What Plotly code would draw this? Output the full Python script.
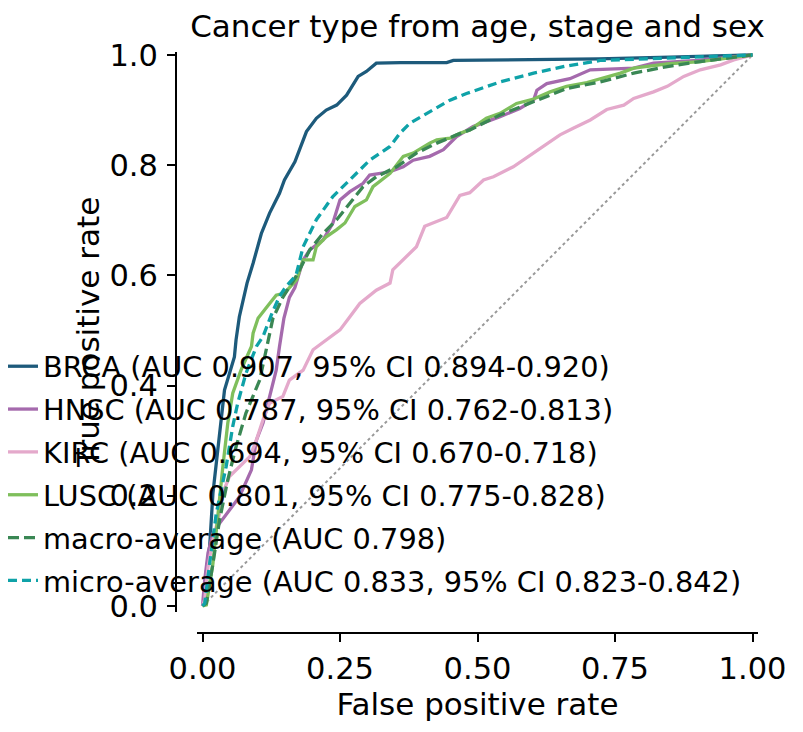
import plotly.graph_objects as go

# ROC points
brca_fpr = [0, 0.002, 0.005, 0.013, 0.019, 0.030, 0.040, 0.058, 0.061, 0.067, 0.081, 0.092,
            0.107, 0.122, 0.140, 0.149, 0.168, 0.189, 0.207, 0.225, 0.244, 0.262, 0.283,
            0.298, 0.316, 0.36, 0.444, 0.456, 0.60, 0.72, 0.85, 1.0]
brca_tpr = [0, 0.005, 0.047, 0.108, 0.205, 0.301, 0.392, 0.452, 0.483, 0.525, 0.586, 0.622,
            0.676, 0.713, 0.749, 0.773, 0.806, 0.861, 0.885, 0.900, 0.909, 0.927, 0.961,
            0.970, 0.985, 0.986, 0.986, 0.990, 0.991, 0.993, 0.996, 1.0]

hnsc_fpr = [0, 0.004, 0.010, 0.019, 0.031, 0.049, 0.067, 0.089, 0.098, 0.110, 0.134, 0.140,
            0.148, 0.158, 0.168, 0.183, 0.195, 0.219, 0.237, 0.250, 0.268, 0.292, 0.304,
            0.341, 0.365, 0.383, 0.413, 0.438, 0.456, 0.462, 0.492, 0.541, 0.577, 0.602,
            0.608, 0.626, 0.668, 0.705, 0.784, 0.820, 0.900, 1.0]
hnsc_tpr = [0, 0.047, 0.096, 0.132, 0.150, 0.174, 0.198, 0.247, 0.301, 0.332, 0.428, 0.471,
            0.522, 0.560, 0.578, 0.628, 0.646, 0.664, 0.695, 0.737, 0.752, 0.767, 0.782,
            0.788, 0.797, 0.809, 0.816, 0.828, 0.846, 0.852, 0.870, 0.888, 0.903, 0.918,
            0.936, 0.948, 0.957, 0.973, 0.976, 0.985, 0.990, 1.0]

kirc_fpr = [0, 0.004, 0.010, 0.019, 0.031, 0.037, 0.049, 0.067, 0.086, 0.098, 0.110, 0.122,
            0.146, 0.158, 0.183, 0.201, 0.225, 0.250, 0.268, 0.286, 0.316, 0.341, 0.346,
            0.365, 0.389, 0.404, 0.420, 0.444, 0.468, 0.486, 0.511, 0.529, 0.565, 0.602,
            0.626, 0.650, 0.674, 0.705, 0.735, 0.766, 0.784, 0.820, 0.845, 0.875, 0.905,
            0.942, 0.966, 1.0]
kirc_tpr = [0, 0.011, 0.071, 0.120, 0.168, 0.205, 0.235, 0.253, 0.271, 0.301, 0.338, 0.368,
            0.380, 0.410, 0.428, 0.465, 0.483, 0.501, 0.525, 0.549, 0.573, 0.586, 0.610,
            0.628, 0.652, 0.689, 0.696, 0.705, 0.745, 0.750, 0.773, 0.779, 0.797, 0.822,
            0.840, 0.855, 0.867, 0.882, 0.901, 0.909, 0.921, 0.933, 0.943, 0.961, 0.973,
            0.982, 0.991, 1.0]

lusc_fpr = [0, 0.007, 0.019, 0.028, 0.037, 0.046, 0.055, 0.070, 0.089, 0.092, 0.101, 0.122,
            0.134, 0.149, 0.171, 0.183, 0.201, 0.207, 0.225, 0.244, 0.259, 0.277, 0.298,
            0.310, 0.341, 0.365, 0.383, 0.413, 0.426, 0.450, 0.468, 0.486, 0.516, 0.541,
            0.571, 0.602, 0.632, 0.662, 0.699, 0.760, 0.784, 0.845, 0.905, 1.0]
lusc_tpr = [0, 0.002, 0.077, 0.168, 0.253, 0.332, 0.386, 0.428, 0.471, 0.495, 0.522, 0.549,
            0.564, 0.568, 0.592, 0.628, 0.628, 0.652, 0.670, 0.683, 0.695, 0.725, 0.737,
            0.761, 0.785, 0.816, 0.822, 0.840, 0.846, 0.849, 0.858, 0.864, 0.885, 0.894,
            0.912, 0.920, 0.933, 0.943, 0.950, 0.967, 0.976, 0.984, 0.988, 1.0]

macro_fpr = [0, 0.007, 0.019, 0.031, 0.046, 0.061, 0.079, 0.104, 0.118, 0.128, 0.146, 0.170,
             0.195, 0.219, 0.244, 0.268, 0.292, 0.316, 0.353, 0.389, 0.426, 0.462, 0.486,
             0.541, 0.602, 0.662, 0.723, 0.784, 0.845, 0.905, 1.0]
macro_tpr = [0, 0.005, 0.077, 0.156, 0.229, 0.289, 0.350, 0.410, 0.475, 0.522, 0.560, 0.598,
             0.646, 0.676, 0.701, 0.731, 0.761, 0.779, 0.797, 0.822, 0.840, 0.855, 0.864,
             0.891, 0.915, 0.939, 0.951, 0.967, 0.979, 0.988, 1.0]

micro_fpr = [0, 0.004, 0.013, 0.025, 0.043, 0.055, 0.064, 0.079, 0.098, 0.110, 0.125, 0.140,
             0.152, 0.170, 0.183, 0.207, 0.237, 0.268, 0.304, 0.341, 0.359, 0.377, 0.420,
             0.450, 0.480, 0.541, 0.602, 0.662, 0.723, 0.845, 1.0]
micro_tpr = [0, 0.005, 0.077, 0.168, 0.253, 0.326, 0.368, 0.422, 0.471, 0.489, 0.528, 0.562,
             0.580, 0.600, 0.652, 0.701, 0.743, 0.773, 0.809, 0.834, 0.858, 0.876, 0.900,
             0.918, 0.930, 0.951, 0.967, 0.980, 0.990, 0.995, 1.0]

labels = [
    "BRCA (AUC 0.907, 95% CI 0.894-0.920)",
    "HNSC (AUC 0.787, 95% CI 0.762-0.813)",
    "KIRC (AUC 0.694, 95% CI 0.670-0.718)",
    "LUSC (AUC 0.801, 95% CI 0.775-0.828)",
    "macro-average (AUC 0.798)",
    "micro-average (AUC 0.833, 95% CI 0.823-0.842)",
]
colors = ["#1d5a7b", "#a56aad", "#e4a9cb", "#7fbf5c", "#3a8754", "#0fa2a8"]
dashes = ["solid", "solid", "solid", "solid", "11px,5px", "9px,5px"]

curves = [(brca_fpr, brca_tpr), (hnsc_fpr, hnsc_tpr), (kirc_fpr, kirc_tpr),
          (lusc_fpr, lusc_tpr), (macro_fpr, macro_tpr), (micro_fpr, micro_tpr)]

W, H = 803, 732
ML = 40              # left margin keeps the legend from pushing the plot
PW = W - ML
FONT = "DejaVu Sans"


def px_x(p):
    return (p - ML) / PW


fig = go.Figure()

# chance line
fig.add_trace(go.Scatter(x=[0, 1], y=[0, 1], mode="lines", showlegend=False,
                         line=dict(color="#999999", width=2, dash="dot")))

for (fx, ty), name, col, dsh in zip(curves, labels, colors, dashes):
    fig.add_trace(go.Scatter(x=fx, y=ty, mode="lines", name=name, legendgroup=name,
                             line=dict(color=col, width=3.3, dash=dsh)))

fig.update_layout(
    width=W, height=H,
    margin=dict(l=ML, r=0, t=0, b=0),
    paper_bgcolor="white", plot_bgcolor="white",
    font=dict(family=FONT, size=30, color="black"),
    title=dict(text="Cancer type from age, stage and sex", x=477.5 / W, xanchor="center",
               y=1 - 26 / H, yanchor="middle", font=dict(size=31)),
    legend=dict(x=px_x(3), y=1 - 341 / H, xanchor="left", yanchor="top",
                bgcolor="rgba(0,0,0,0)", font=dict(size=28.8), itemwidth=30,
                tracegroupgap=2.4),
    xaxis=dict(domain=[px_x(197), px_x(758)], range=[-0.01, 1.01], anchor="free",
               position=1 - 633 / H, showline=True, linecolor="black", linewidth=2,
               ticks="outside", ticklen=8, tickwidth=1.5, tickcolor="black",
               tickvals=[0, 0.25, 0.5, 0.75, 1.0],
               ticktext=["0.00", "0.25", "0.50", "0.75", "1.00"],
               tickfont=dict(size=30.5), showgrid=False, zeroline=False, automargin=False,
               title=dict(text="False positive rate", standoff=3, font=dict(size=31))),
    yaxis=dict(domain=[1 - 611.5 / H, 1 - 52.2 / H], range=[-0.01, 1.005], anchor="free",
               position=px_x(176), showline=True, linecolor="black", linewidth=2,
               ticks="outside", ticklen=8, tickwidth=1.5, tickcolor="black",
               ticklabelstandoff=3,
               tickvals=[0, 0.2, 0.4, 0.6, 0.8, 1.0],
               ticktext=["0.0", "0.2", "0.4", "0.6", "0.8", "1.0"],
               tickfont=dict(size=30.5), showgrid=False, zeroline=False, automargin=False,
               title=dict(text="True positive rate", standoff=0, font=dict(size=31))),
)

fig.write_html("out.html", config={"displayModeBar": False},
               post_script="document.body.style.margin='0';")
